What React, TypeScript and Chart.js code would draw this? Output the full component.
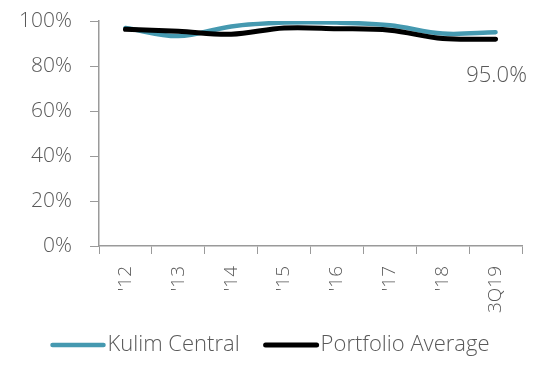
import React, { useEffect, useRef } from "react";
import { Chart, registerables } from "chart.js";

Chart.register(...registerables);

const categories = ["'12", "'13", "'14", "'15", "'16", "'17", "'18", "3Q19"];
const kulimCentral = [96.9, 93.3, 97.6, 99.3, 99.3, 98.1, 94.4, 95.0];
const portfolioAverage = [96.3, 95.4, 94.1, 96.9, 96.6, 95.9, 92.2, 91.9];
const yTicks = [0, 20, 40, 60, 80, 100];

const FONT = "'Open Sans', 'Noto Sans', sans-serif";
const TEXT = "#595959";
const AXIS = "#9a9a9a";
const TEAL = "#4599b0";
const BLACK = "#000000";

// Draws the value of the last Kulim Central point below it, and a line legend at the bottom.
const annotations = {
  id: "annotations",
  afterDraw(chart: any) {
    const ctx = chart.ctx;
    ctx.save();
    // value label
    const meta = chart.getDatasetMeta(0);
    const last = meta.data[meta.data.length - 1];
    const v = kulimCentral[kulimCentral.length - 1];
    ctx.font = `300 22px ${FONT}`;
    ctx.fillStyle = TEXT;
    ctx.textAlign = "center";
    ctx.textBaseline = "middle";
    ctx.fillText(`${v.toFixed(1)}%`, last.x + 1, last.y + 43);

    // legend
    const items = chart.data.datasets.map((d: any) => ({ label: d.label, color: d.borderColor, w: d.borderWidth }));
    ctx.font = `300 22px ${FONT}`;
    ctx.textAlign = "left";
    const lineLen = 55;
    const gap = 2;
    const itemGap = 24;
    const widths = items.map((it: any) => lineLen + gap + ctx.measureText(it.label).width);
    const total = widths.reduce((a: number, b: number) => a + b, 0) + itemGap * (items.length - 1);
    let x = 270 - total / 2;
    const y = 345;
    items.forEach((it: any, i: number) => {
      ctx.strokeStyle = it.color;
      ctx.lineWidth = it.w;
      ctx.lineCap = "round";
      ctx.beginPath();
      ctx.moveTo(x + 2, y);
      ctx.lineTo(x + lineLen - 2, y);
      ctx.stroke();
      ctx.fillStyle = TEXT;
      ctx.fillText(it.label, x + lineLen + gap, y);
      x += widths[i] + itemGap;
    });
    ctx.restore();
  },
};

export default function App() {
  const ref = useRef<HTMLCanvasElement | null>(null);

  useEffect(() => {
    if (!ref.current) return;
    const chart = new Chart(ref.current, {
      type: "line",
      data: {
        labels: categories,
        datasets: [
          {
            label: "Kulim Central",
            data: kulimCentral,
            borderColor: TEAL,
            backgroundColor: TEAL,
            borderWidth: 4.5,
            pointRadius: 0,
            tension: 0.35,
            borderCapStyle: "round",
            order: 1,
          },
          {
            label: "Portfolio Average",
            data: portfolioAverage,
            borderColor: BLACK,
            backgroundColor: BLACK,
            borderWidth: 5,
            pointRadius: 0,
            tension: 0.35,
            borderCapStyle: "round",
            order: 0,
          },
        ],
      },
      options: {
        animation: false,
        responsive: true,
        maintainAspectRatio: false,
        layout: { padding: { top: 21, right: 14, bottom: 0, left: 0 } },
        plugins: {
          legend: { display: false },
          tooltip: { enabled: false },
        },
        scales: {
          x: {
            offset: true,
            grid: {
              display: true,
              drawOnChartArea: false,
              drawTicks: true,
              tickLength: 8,
              color: AXIS,
              offset: true,
            },
            border: { display: true, color: AXIS, width: 1.5 },
            ticks: {
              color: TEXT,
              font: { family: FONT, size: 19, weight: "300" },
              maxRotation: 90,
              minRotation: 90,
              padding: 12,
              autoSkip: false,
            },
            afterFit: (s: any) => {
              s.height = 130;
              s.paddingLeft = 0;
              s.paddingRight = 0;
            },
          },
          y: {
            min: 0,
            max: 100,
            afterBuildTicks: (s: any) => {
              s.ticks = yTicks.map((v) => ({ value: v }));
            },
            grid: {
              display: true,
              drawOnChartArea: false,
              drawTicks: true,
              tickLength: 9,
              color: AXIS,
            },
            border: { display: true, color: AXIS, width: 1.5 },
            ticks: {
              color: TEXT,
              font: { family: FONT, size: 21, weight: "300" },
              padding: 18,
              callback: (v: any) => `${v}%`,
            },
            afterFit: (s: any) => {
              s.width = 99;
              s.paddingTop = 0;
              s.paddingBottom = 0;
            },
          },
        },
      },
      plugins: [annotations],
    });
    return () => chart.destroy();
  }, []);

  return (
    <div style={{ position: "absolute", left: 0, top: 0, width: 536, height: 376, background: "#fff" }}>
      <canvas ref={ref} />
    </div>
  );
}
